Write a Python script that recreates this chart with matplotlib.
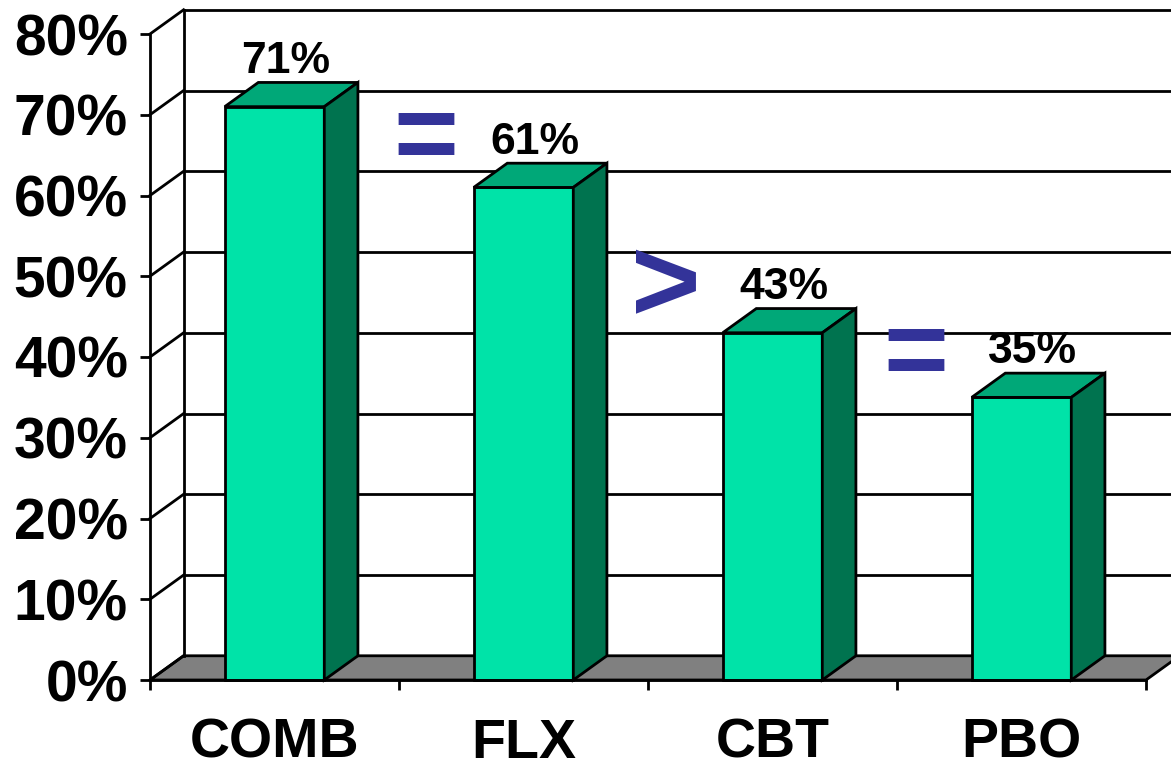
import matplotlib
matplotlib.use("Agg")
import matplotlib.pyplot as plt
from matplotlib.patches import Polygon, Rectangle

# ---- data ----
categories = ["COMB", "FLX", "CBT", "PBO"]
values = [71, 61, 43, 35]
value_labels = ["71%", "61%", "43%", "35%"]
y_ticks = [0, 10, 20, 30, 40, 50, 60, 70, 80]
y_tick_labels = [f"{v}%" for v in y_ticks]
symbols = ["=", ">", "="]
symbol_pos = [(0.606, 63.0), (1.572, 44.4), (2.576, 36.3)]  # annotation anchors (data units)

# ---- style ----
FRONT = "#00E3A8"
TOP = "#00A878"
SIDE = "#00734F"
FLOOR = "#808080"
SYM = "#333399"
LW = 2.0
DX, DY = 0.135, 3.0     # 3-D depth offset in data units
BAR_W = 0.40
FONT = "Liberation Sans"

fig = plt.figure(figsize=(11.71, 7.68), dpi=100)
ax = fig.add_axes([150 / 1171, 88 / 768, 1021 / 1171, 680 / 768])
ax.set_xlim(-0.5, -0.5 + 1021 / 249)
ax.set_ylim(0, 680 / 8.075)
ax.set_facecolor("white")

n = len(categories)
x0, x1 = -0.5, n - 0.5
xmax = ax.get_xlim()[1] + 0.2

# floor
ax.add_patch(Polygon([(x0, 0), (x1, 0), (x1 + DX, DY), (x0 + DX, DY)],
                     closed=True, facecolor=FLOOR, edgecolor="black",
                     lw=LW, zorder=1, clip_on=False, joinstyle="miter"))

# back wall grid + side-wall diagonals
for v in y_ticks:
    if v > 0:
        ax.plot([x0 + DX, xmax], [v + DY, v + DY], color="black", lw=LW,
                zorder=2, clip_on=False, solid_capstyle="butt")
    ax.plot([x0, x0 + DX], [v, v + DY], color="black", lw=LW, zorder=2,
            clip_on=False)
ax.plot([x0 + DX, x0 + DX], [DY, y_ticks[-1] + DY], color="black", lw=LW,
        zorder=2, clip_on=False)

# bars
for i, v in enumerate(values):
    a, b = i - BAR_W / 2, i + BAR_W / 2
    ax.add_patch(Rectangle((a, 0), BAR_W, v, facecolor=FRONT, edgecolor="black",
                           lw=LW, zorder=3, clip_on=False, joinstyle="miter"))
    ax.add_patch(Polygon([(a, v), (b, v), (b + DX, v + DY), (a + DX, v + DY)],
                         closed=True, facecolor=TOP, edgecolor="black", lw=LW,
                         zorder=3, clip_on=False, joinstyle="miter"))
    ax.add_patch(Polygon([(b, 0), (b + DX, DY), (b + DX, v + DY), (b, v)],
                         closed=True, facecolor=SIDE, edgecolor="black", lw=LW,
                         zorder=3, clip_on=False, joinstyle="miter"))
    ax.text(i + DX / 3, v + DY + 1.2, value_labels[i], ha="center",
            va="baseline", fontsize=32, fontweight="bold", family=FONT,
            color="black", zorder=5)

# comparison symbols
for s, (sx, sy) in zip(symbols, symbol_pos):
    ax.text(sx, sy, s, ha="center", va="baseline",
            fontsize=80 if s == "=" else 86,
            fontweight="bold", family=FONT, color=SYM, zorder=5)

# spines
for side in ("top", "right"):
    ax.spines[side].set_visible(False)
ax.spines["left"].set_bounds(0, y_ticks[-1])
ax.spines["bottom"].set_bounds(x0, x1)
for side in ("left", "bottom"):
    ax.spines[side].set_linewidth(LW)
    ax.spines[side].set_zorder(4)

# ticks
ax.set_yticks(y_ticks)
ax.set_yticklabels(y_tick_labels, fontsize=41, fontweight="bold", family=FONT)
ax.tick_params(axis="y", direction="out", length=7, width=LW, pad=9)

ax.set_xticks([k - 0.5 for k in range(n + 1)])
ax.set_xticklabels([])
ax.set_xticks(list(range(n)), minor=True)
ax.set_xticklabels(categories, minor=True, fontsize=40, fontweight="bold",
                   family=FONT)
ax.tick_params(axis="x", which="major", direction="out", length=7, width=LW)
ax.tick_params(axis="x", which="minor", length=0, pad=27)

fig.savefig("out.png", dpi=100)
